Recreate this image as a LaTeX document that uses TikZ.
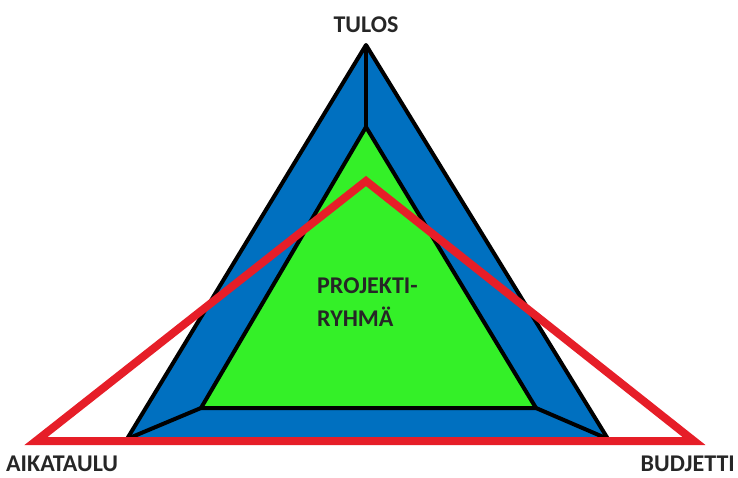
\documentclass[tikz,border=0pt]{standalone}
\usepackage{fontspec}
\setmainfont{Carlito}
\definecolor{pblue}{RGB}{0,112,192}
\definecolor{pgreen}{RGB}{52,240,40}
\definecolor{pred}{RGB}{230,30,40}
\begin{document}
\begin{tikzpicture}[x=1pt,y=-1pt,
  edge/.style={draw=black,line width=4pt,line join=round},
  redline/.style={draw=pred,line width=8pt,line join=miter},
  lbl/.style={font=\fontsize{24}{27}\selectfont\bfseries,text=black!85,inner sep=0pt}]
\useasboundingbox (0,0) rectangle (738,477);
\coordinate (oa) at (366,45);
\coordinate (ol) at (127,439);
\coordinate (or) at (608,439);
\coordinate (ia) at (366,127);
\coordinate (il) at (201,408);
\coordinate (ir) at (536,408);
\coordinate (ra) at (366,181);
\coordinate (rl) at (36,441);
\coordinate (rr) at (694,441);
\fill[pblue] (oa) -- (ol) -- (or) -- cycle;
\draw[edge] (oa) -- (ol) -- (or) -- cycle;
\fill[pgreen] (ia) -- (il) -- (ir) -- cycle;
\draw[edge] (ia) -- (il) -- (ir) -- cycle;
\draw[edge] (oa) -- (ia);
\draw[edge] (ol) -- (il);
\draw[edge] (or) -- (ir);
\draw[redline] (ra) -- (rl) -- (rr) -- cycle;
\node[lbl,anchor=base] (tulos) at (366,32) {TULOS};
\node[lbl,anchor=base west] (aika) at (6,471) {AIKATAULU};
\node[lbl,anchor=base east] (bud) at (735,471) {BUDJETTI};
\node[lbl,anchor=base west] (proj) at (317,293) {PROJEKTI-};
\node[lbl,anchor=base west] (ryhma) at (317,326) {RYHMÄ};
\end{tikzpicture}
\end{document}
